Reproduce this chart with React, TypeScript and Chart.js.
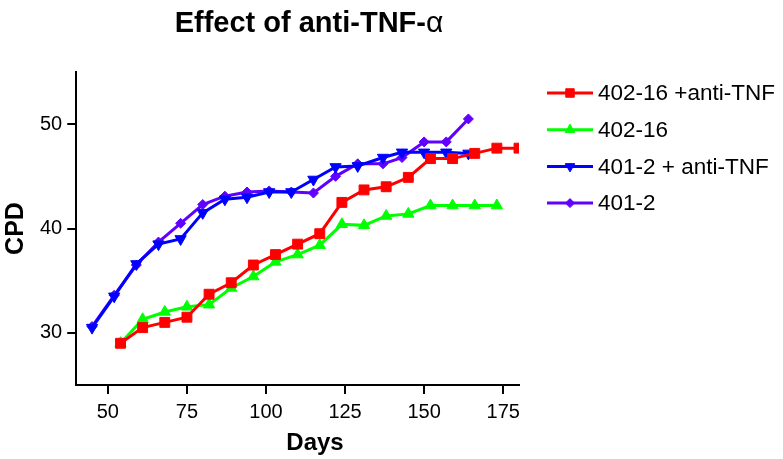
import React, { useEffect, useRef } from 'react';
import { Chart, registerables } from 'chart.js';
import { drawPoint } from 'chart.js/helpers';

Chart.register(...registerables);

const titleMain = 'Effect of anti-TNF-';
const titleGreek = 'α';
const xTitle = 'Days';
const yTitle = 'CPD';
const xTicks = [50, 75, 100, 125, 150, 175];
const yTicks = [30, 40, 50];

const seriesLabels = ['402-16 +anti-TNF', '402-16', '401-2 + anti-TNF', '401-2'];

const redDays = [54, 61, 68, 75, 82, 89, 96, 103, 110, 117, 124, 131, 138, 145, 152, 159, 166, 173, 180];
const redCPD = [29.0, 30.5, 31.0, 31.5, 33.7, 34.8, 36.5, 37.5, 38.5, 39.5, 42.5, 43.7, 44.0, 44.9, 46.7, 46.7, 47.2, 47.7, 47.7];

const greenDays = [54, 61, 68, 75, 82, 89, 96, 103, 110, 117, 124, 131, 138, 145, 152, 159, 166, 173];
const greenCPD = [29.0, 31.3, 32.0, 32.5, 32.7, 34.3, 35.4, 36.8, 37.5, 38.4, 40.4, 40.3, 41.2, 41.4, 42.2, 42.2, 42.2, 42.2];

const blueDays = [45, 52, 59, 66, 73, 80, 87, 94, 101, 108, 115, 122, 129, 137, 143, 150, 157, 164];
const blueCPD = [30.5, 33.5, 36.6, 38.5, 39.0, 41.5, 42.8, 43.0, 43.5, 43.5, 44.7, 45.9, 46.0, 46.8, 47.3, 47.3, 47.3, 47.2];

const purpleDays = [45, 52, 59, 66, 73, 80, 87, 94, 101, 108, 115, 122, 129, 137, 143, 150, 157, 164];
const purpleCPD = [30.6, 33.6, 36.5, 38.7, 40.5, 42.3, 43.1, 43.5, 43.6, 43.5, 43.4, 45.0, 46.2, 46.2, 46.8, 48.3, 48.3, 50.5];

const FONT = "'Liberation Sans', Arial, Helvetica, sans-serif";

const toPoints = (xs: number[], ys: number[]) => xs.map((x, i) => ({ x, y: ys[i] }));

const overlayPlugin = {
  id: 'overlay',
  afterDraw(chart: any) {
    const ctx = chart.ctx as CanvasRenderingContext2D;
    ctx.save();
    // Title
    ctx.fillStyle = '#000';
    ctx.textBaseline = 'alphabetic';
    const boldFont = `bold 29px ${FONT}`;
    const greekFont = `30px ${FONT}`;
    ctx.font = boldFont;
    const w1 = ctx.measureText(titleMain).width;
    ctx.font = greekFont;
    const w2 = ctx.measureText(titleGreek).width;
    const cx = 309;
    const startX = cx - (w1 + w2) / 2;
    ctx.font = boldFont;
    ctx.textAlign = 'left';
    ctx.fillText(titleMain, startX, 32);
    ctx.font = greekFont;
    ctx.fillText(titleGreek, startX + w1, 32);

    // X axis title
    ctx.font = `bold 24px ${FONT}`;
    ctx.textAlign = 'center';
    ctx.textBaseline = 'middle';
    ctx.fillText(xTitle, 315, 443);

    // Legend
    const rowY0 = 93;
    const rowGap = 36.7;
    chart.data.datasets.forEach((ds: any, i: number) => {
      const y = rowY0 + i * rowGap;
      ctx.strokeStyle = ds.borderColor;
      ctx.fillStyle = ds.backgroundColor;
      ctx.lineWidth = 3;
      ctx.beginPath();
      ctx.moveTo(547, y);
      ctx.lineTo(593, y);
      ctx.stroke();
      ctx.lineWidth = 1;
      drawPoint(ctx, {
        pointStyle: ds.pointStyle,
        rotation: ds.pointRotation || 0,
        radius: ds.legendRadius,
        borderWidth: 1,
      } as any, 570, y);
      ctx.fillStyle = '#000';
      ctx.font = `22.5px ${FONT}`;
      ctx.textBaseline = 'middle';
      ctx.textAlign = 'left';
      ctx.fillText(ds.label, 598, y + 1);
    });
    ctx.restore();
  },
};

export default function App() {
  const canvasRef = useRef<HTMLCanvasElement | null>(null);

  useEffect(() => {
    document.body.style.margin = '0';
    const canvas = canvasRef.current;
    if (!canvas) return;

    const axisCommon = {
      type: 'linear' as const,
      grid: {
        display: true,
        drawOnChartArea: false,
        drawTicks: true,
        tickLength: 9,
        color: '#000',
        lineWidth: 2,
      },
      border: { display: true, color: '#000', width: 2 },
    };

    const chart = new Chart(canvas, {
      type: 'line',
      data: {
        datasets: [
          {
            label: seriesLabels[0],
            data: toPoints(redDays, redCPD),
            borderColor: '#ff0000',
            backgroundColor: '#ff0000',
            pointStyle: 'rect',
            pointRadius: 7,
            pointBorderWidth: 1,
            borderWidth: 3,
            legendRadius: 6,
          } as any,
          {
            label: seriesLabels[1],
            data: toPoints(greenDays, greenCPD),
            borderColor: '#00ff00',
            backgroundColor: '#00ff00',
            pointStyle: 'triangle',
            pointRadius: 6.5,
            pointBorderWidth: 1,
            borderWidth: 3,
            legendRadius: 5.5,
          } as any,
          {
            label: seriesLabels[2],
            data: toPoints(blueDays, blueCPD),
            borderColor: '#0000ff',
            backgroundColor: '#0000ff',
            pointStyle: 'triangle',
            pointRotation: 180,
            pointRadius: 6.5,
            pointBorderWidth: 1,
            borderWidth: 3,
            legendRadius: 5.5,
          } as any,
          {
            label: seriesLabels[3],
            data: toPoints(purpleDays, purpleCPD),
            borderColor: '#6000ff',
            backgroundColor: '#6000ff',
            pointStyle: 'rectRot',
            pointRadius: 5,
            pointBorderWidth: 1,
            borderWidth: 3,
            legendRadius: 4.5,
          } as any,
        ],
      },
      options: {
        responsive: false,
        animation: false,
        devicePixelRatio: 1,
        layout: { padding: { left: 1, right: 264, top: 72, bottom: 29 } },
        plugins: {
          legend: { display: false },
          title: { display: false },
          tooltip: { enabled: false },
        },
        scales: {
          x: {
            ...axisCommon,
            min: 40,
            max: 180,
            afterBuildTicks: (axis: any) => {
              axis.ticks = xTicks.map((v) => ({ value: v }));
            },
            ticks: {
              color: '#000',
              padding: 6,
              maxRotation: 0,
              autoSkip: false,
              font: { family: FONT, size: 20 },
            },
            title: { display: false },
          },
          y: {
            ...axisCommon,
            min: 25,
            max: 55,
            afterBuildTicks: (axis: any) => {
              axis.ticks = yTicks.map((v) => ({ value: v }));
            },
            ticks: {
              color: '#000',
              padding: 5,
              autoSkip: false,
              font: { family: FONT, size: 20 },
            },
            title: {
              display: true,
              text: yTitle,
              color: '#000',
              font: { family: FONT, size: 25, weight: 'bold' },
              padding: { top: 0, bottom: 4 },
            },
          },
        },
      },
      plugins: [overlayPlugin],
    });

    return () => {
      chart.destroy();
    };
  }, []);

  return (
    <div style={{ position: 'absolute', left: 0, top: 0, width: 783, height: 459, background: '#fff' }}>
      <canvas ref={canvasRef} width={783} height={459} />
    </div>
  );
}
